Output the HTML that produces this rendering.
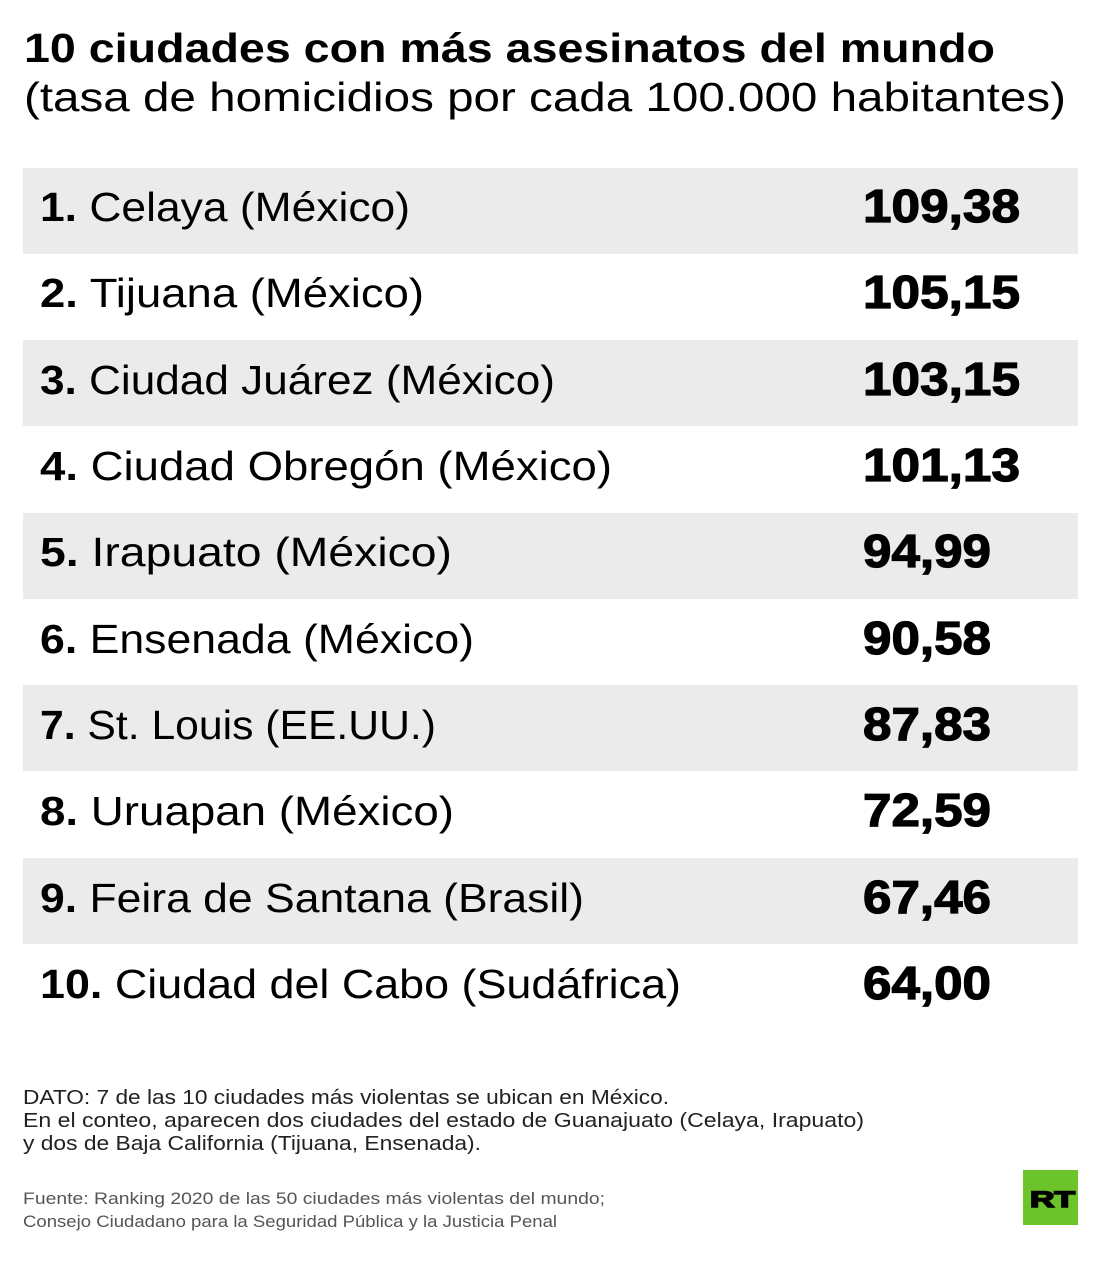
<!DOCTYPE html>
<html><head><meta charset="utf-8"><style>
html,body{margin:0;padding:0;background:#fff;}
svg{display:block;}
text{font-family:"Liberation Sans","DejaVu Sans",sans-serif;fill:#000;}
</style></head><body>
<svg width="1104" height="1261" viewBox="0 0 1104 1261" xmlns="http://www.w3.org/2000/svg">
<rect width="1104" height="1261" fill="#fff"/>
<text x="24" y="62" font-size="41" font-weight="bold" textLength="971" lengthAdjust="spacingAndGlyphs">10 ciudades con más asesinatos del mundo</text>
<text x="24" y="111" font-size="41" textLength="1042" lengthAdjust="spacingAndGlyphs">(tasa de homicidios por cada 100.000 habitantes)</text>

<rect x="23" y="168" width="1055" height="86" fill="#ebebeb"/>
<rect x="23" y="340" width="1055" height="86" fill="#ebebeb"/>
<rect x="23" y="513" width="1055" height="86" fill="#ebebeb"/>
<rect x="23" y="685" width="1055" height="86" fill="#ebebeb"/>
<rect x="23" y="858" width="1055" height="86" fill="#ebebeb"/>

<g font-size="41">
<text x="40" y="221" textLength="370" lengthAdjust="spacingAndGlyphs"><tspan font-weight="bold">1.</tspan> Celaya (México)</text>
<text x="40" y="307" textLength="384" lengthAdjust="spacingAndGlyphs"><tspan font-weight="bold">2.</tspan> Tijuana (México)</text>
<text x="40" y="394" textLength="515" lengthAdjust="spacingAndGlyphs"><tspan font-weight="bold">3.</tspan> Ciudad Juárez (México)</text>
<text x="40" y="480" textLength="572" lengthAdjust="spacingAndGlyphs"><tspan font-weight="bold">4.</tspan> Ciudad Obregón (México)</text>
<text x="40" y="566" textLength="412" lengthAdjust="spacingAndGlyphs"><tspan font-weight="bold">5.</tspan> Irapuato (México)</text>
<text x="40" y="653" textLength="434" lengthAdjust="spacingAndGlyphs"><tspan font-weight="bold">6.</tspan> Ensenada (México)</text>
<text x="40" y="739" textLength="396" lengthAdjust="spacingAndGlyphs"><tspan font-weight="bold">7.</tspan> St. Louis (EE.UU.)</text>
<text x="40" y="825" textLength="414" lengthAdjust="spacingAndGlyphs"><tspan font-weight="bold">8.</tspan> Uruapan (México)</text>
<text x="40" y="912" textLength="544" lengthAdjust="spacingAndGlyphs"><tspan font-weight="bold">9.</tspan> Feira de Santana (Brasil)</text>
<text x="40" y="998" textLength="641" lengthAdjust="spacingAndGlyphs"><tspan font-weight="bold">10.</tspan> Ciudad del Cabo (Sudáfrica)</text>
</g>
<g font-size="46" font-weight="bold" stroke="#000" stroke-width="1.2">
<text x="863" y="222" textLength="157" lengthAdjust="spacingAndGlyphs">109,38</text>
<text x="863" y="308" textLength="157" lengthAdjust="spacingAndGlyphs">105,15</text>
<text x="863" y="395" textLength="157" lengthAdjust="spacingAndGlyphs">103,15</text>
<text x="863" y="481" textLength="157" lengthAdjust="spacingAndGlyphs">101,13</text>
<text x="863" y="567" textLength="128" lengthAdjust="spacingAndGlyphs">94,99</text>
<text x="863" y="654" textLength="128" lengthAdjust="spacingAndGlyphs">90,58</text>
<text x="863" y="740" textLength="128" lengthAdjust="spacingAndGlyphs">87,83</text>
<text x="863" y="826" textLength="128" lengthAdjust="spacingAndGlyphs">72,59</text>
<text x="863" y="913" textLength="128" lengthAdjust="spacingAndGlyphs">67,46</text>
<text x="863" y="999" textLength="128" lengthAdjust="spacingAndGlyphs">64,00</text>
</g>

<g font-size="20">
<text x="23" y="1104" textLength="646" lengthAdjust="spacingAndGlyphs" style="fill:#222">DATO: 7 de las 10 ciudades más violentas se ubican en México.</text>
<text x="23" y="1127" textLength="841" lengthAdjust="spacingAndGlyphs" style="fill:#222">En el conteo, aparecen dos ciudades del estado de Guanajuato (Celaya, Irapuato)</text>
<text x="23" y="1150" textLength="458" lengthAdjust="spacingAndGlyphs" style="fill:#222">y dos de Baja California (Tijuana, Ensenada).</text>
</g>
<g font-size="17">
<text x="23" y="1204" textLength="582" lengthAdjust="spacingAndGlyphs" style="fill:#555">Fuente: Ranking 2020 de las 50 ciudades más violentas del mundo;</text>
<text x="23" y="1227" textLength="534" lengthAdjust="spacingAndGlyphs" style="fill:#555">Consejo Ciudadano para la Seguridad Pública y la Justicia Penal</text>
</g>

<rect x="1023" y="1170" width="55" height="55" fill="#6dc42a"/>
<text x="1030" y="1207" font-size="22" font-weight="bold" stroke="#000" stroke-width="1.5" textLength="45" lengthAdjust="spacingAndGlyphs">RT</text>
</svg>
</body></html>
